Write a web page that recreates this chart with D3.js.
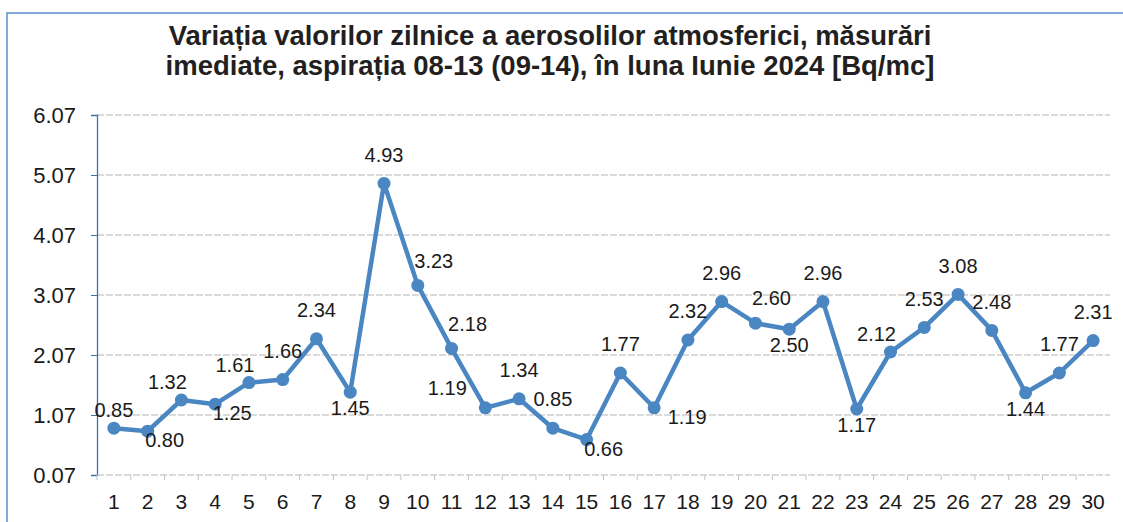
<!DOCTYPE html>
<html>
<head>
<meta charset="utf-8">
<script src="https://cdn.jsdelivr.net/npm/d3@7"></script>
<style>
  html, body { margin: 0; padding: 0; background: #fff; }
  svg { display: block; font-family: Arial, "Liberation Sans", sans-serif; }
</style>
</head>
<body>
<div id="chart"></div>
<script>
// chart data
const titleLines = [
  'Variația valorilor zilnice a aerosolilor atmosferici, măsurări',
  'imediate, aspirația 08-13 (09-14), în luna Iunie 2024 [Bq/mc]'
];
const days = d3.range(1, 31).map(String);
const values = [
  0.85, 0.80, 1.32, 1.25, 1.61, 1.66, 2.34, 1.45, 4.93, 3.23,
  2.18, 1.19, 1.34, 0.85, 0.66, 1.77, 1.19, 2.32, 2.96, 2.60,
  2.50, 2.96, 1.17, 2.12, 2.53, 3.08, 2.48, 1.44, 1.77, 2.31
];
const yTicks = [0.07, 1.07, 2.07, 3.07, 4.07, 5.07, 6.07];
// where each data label sits relative to its point
const labelSide = [
  'ac', 'br', 'al', 'br', 'al', 'a', 'a', 'b', 'a', 'ar',
  'ar', 'l', 'a', 'a', 'br', 'a', 'r', 'a', 'a', 'ar',
  'b', 'a', 'b', 'al', 'a', 'a', 'a', 'b', 'a', 'a'
];

class LineChart {
  constructor(_config) {
    this.config = {
      parentElement: _config.parentElement,
      containerWidth: 1123,
      containerHeight: 522,
      lineColor: '#4a86c2',
      margin: { top: 115, right: 13, bottom: 47, left: 97 }
    };
    this.initVis();
  }

  initVis() {
    let vis = this;
    const c = vis.config;
    c.width = c.containerWidth - c.margin.left - c.margin.right;
    c.height = c.containerHeight - c.margin.top - c.margin.bottom;

    vis.svg = d3.select(c.parentElement).append('svg')
      .attr('width', c.containerWidth)
      .attr('height', c.containerHeight);

    // blue frame of the scanned chart (right/bottom edges run off the page)
    vis.svg.append('rect')
      .attr('x', 7).attr('y', 13)
      .attr('width', 1140).attr('height', 540)
      .attr('fill', 'none')
      .attr('stroke', '#5a8fcc')
      .attr('stroke-width', 1.5);

    vis.svg.append('text')
      .attr('class', 'title')
      .attr('x', 550)
      .attr('text-anchor', 'middle')
      .attr('font-weight', 'bold')
      .attr('font-size', 27.5)
      .attr('fill', '#231f20')
      .selectAll('tspan')
      .data(titleLines)
      .join('tspan')
        .attr('x', 550)
        .attr('y', (d, i) => 45 + i * 30)
        .text(d => d);

    vis.chartArea = vis.svg.append('g')
      .attr('transform', `translate(${c.margin.left},${c.margin.top})`);

    vis.xScale = d3.scaleBand().domain(days).range([0, c.width]);
    vis.yScale = d3.scaleLinear().domain([0.07, 6.07]).range([c.height, 0]);

    vis.updateVis();
  }

  updateVis() {
    let vis = this;
    vis.points = values.map((v, i) => ({ day: days[i], value: v, side: labelSide[i] }));
    vis.renderVis();
  }

  renderVis() {
    let vis = this;
    const c = vis.config;
    const x = d => vis.xScale(d.day) + vis.xScale.bandwidth() / 2;
    const y = d => vis.yScale(d.value);

    // dashed grid lines
    vis.chartArea.append('g')
      .selectAll('line')
      .data(yTicks.slice(1))
      .join('line')
        .attr('x1', 0).attr('x2', c.width)
        .attr('y1', d => vis.yScale(d)).attr('y2', d => vis.yScale(d))
        .attr('stroke', '#b5b5b5')
        .attr('stroke-dasharray', '7,2');

    // y axis
    const yAxis = d3.axisLeft(vis.yScale)
      .tickValues(yTicks)
      .tickFormat(d3.format('.2f'))
      .tickSize(6)
      .tickPadding(15);
    const yG = vis.chartArea.append('g').call(yAxis);
    yG.select('.domain').attr('stroke', '#3f6fa8').attr('stroke-width', 1.3);
    yG.selectAll('.tick line').attr('stroke', '#3f6fa8');
    yG.selectAll('.tick text')
      .attr('font-size', 22)
      .attr('fill', '#1a1a1a')
      .attr('font-family', 'Arial, "Liberation Sans", sans-serif');

    // x axis: ticks sit between the categories
    const xG = vis.chartArea.append('g')
      .attr('transform', `translate(0,${c.height})`);
    xG.append('line')
      .attr('x1', 0).attr('x2', c.width)
      .attr('stroke', '#b5b5b5').attr('stroke-dasharray', '7,2');
    xG.selectAll('.xtick')
      .data(days)
      .join('line')
        .attr('class', 'xtick')
        .attr('x1', d => vis.xScale(d)).attr('x2', d => vis.xScale(d))
        .attr('y1', 0).attr('y2', 5)
        .attr('stroke', '#c4c4c4');
    xG.selectAll('.xlabel')
      .data(days)
      .join('text')
        .attr('class', 'xlabel')
        .attr('x', d => vis.xScale(d) + vis.xScale.bandwidth() / 2)
        .attr('y', 34)
        .attr('text-anchor', 'middle')
        .attr('font-size', 21)
        .attr('fill', '#1a1a1a')
        .text(d => d);

    // line + markers
    const line = d3.line().x(x).y(y);
    vis.chartArea.append('path')
      .datum(vis.points)
      .attr('d', line)
      .attr('fill', 'none')
      .attr('stroke', c.lineColor)
      .attr('stroke-width', 4.5)
      .attr('stroke-linejoin', 'round');

    vis.chartArea.selectAll('.dot')
      .data(vis.points)
      .join('circle')
        .attr('class', 'dot')
        .attr('cx', x).attr('cy', y)
        .attr('r', 6.5)
        .attr('fill', c.lineColor);

    // data labels
    const offsets = {
      a: [0, -29], ac: [0, -18], b: [0, 16],
      al: [-14, -18], ar: [16, -25], br: [17, 9],
      r: [33, 9], l: [-38, -20]
    };
    vis.chartArea.selectAll('.label')
      .data(vis.points)
      .join('text')
        .attr('class', 'label')
        .attr('x', d => x(d) + offsets[d.side][0])
        .attr('y', d => y(d) + offsets[d.side][1])
        .attr('dy', '0.36em')
        .attr('text-anchor', 'middle')
        .attr('font-size', 20)
        .attr('fill', '#1a1a1a')
        .text(d => d3.format('.2f')(d.value));
  }
}

new LineChart({ parentElement: '#chart' });
</script>
</body>
</html>
